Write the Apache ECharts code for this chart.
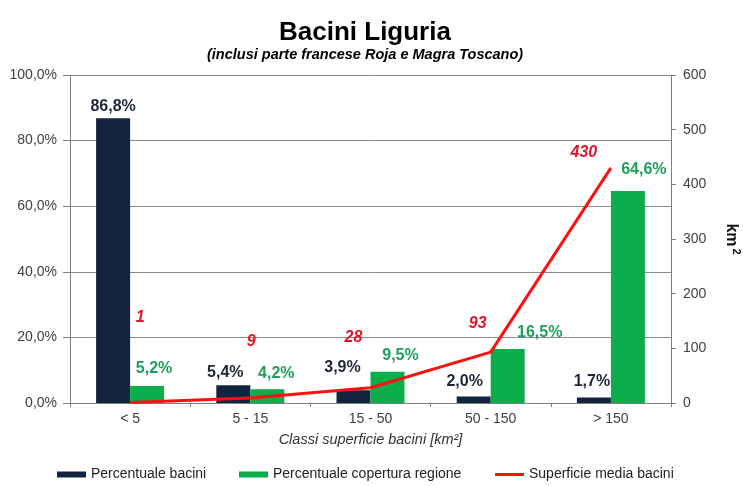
<!DOCTYPE html>
<html>
<head>
<meta charset="utf-8">
<script src="https://cdn.jsdelivr.net/npm/echarts@6/dist/echarts.min.js"></script>
<style>
  html, body { margin: 0; padding: 0; background: #fff; }
  #chart { width: 743px; height: 486px; }
</style>
</head>
<body>
<div id="chart"></div>
<script>
// Basin size classes and their statistics
const categories = ['< 5', '5 - 15', '15 - 50', '50 - 150', '> 150'];
const percentualeBacini = [86.8, 5.4, 3.9, 2.0, 1.7];          // % of basins
const percentualeCopertura = [5.2, 4.2, 9.5, 16.5, 64.6];      // % of regional area
const superficieMedia = [1, 9, 28, 93, 430];                   // mean basin area, km²
const leftTicks = { min: 0, max: 100, interval: 20 };
const rightTicks = { min: 0, max: 600, interval: 100 };

// Label nudges (px) so the value tags sit where they read cleanly
const darkLabelShift = [[0, -4], [-8, -5], [-11, -15], [-9, -7], [-2, -8]];
const greenLabelShift = [[7, -9], [9, -8], [13, -8], [32, -8], [16, -14]];
const redLabelShift = [[10, -77], [1, -48], [-17, -42], [-13, -21], [-27, -7]];

const NAVY = '#132440';
const GREEN = '#0cae4c';
const RED = '#ff1010';
const FONT = '"Liberation Sans", Arial, sans-serif';

const pct = v => v.toFixed(1).replace('.', ',') + '%';

const chart = echarts.init(document.getElementById('chart'), null, { renderer: 'canvas' });

const legendBase = {
  orient: 'horizontal',
  top: 462,
  padding: 5,
  itemGap: 0,
  textStyle: { fontFamily: FONT, fontSize: 14, color: '#222', lineHeight: 15 }
};

chart.setOption({
  backgroundColor: '#fff',
  animation: false,
  title: [
    {
      text: 'Bacini Liguria',
      left: 274,
      top: 14,
      textStyle: { fontFamily: FONT, fontSize: 26, fontWeight: 'bold', color: '#000', lineHeight: 28 }
    },
    {
      text: '(inclusi parte francese Roja e Magra Toscano)',
      left: 202,
      top: 42,
      textStyle: { fontFamily: FONT, fontSize: 14.5, fontWeight: 'bold', fontStyle: 'italic', color: '#000', lineHeight: 16 }
    }
  ],
  legend: [
    Object.assign({}, legendBase, {
      left: 52, itemWidth: 29, itemHeight: 6,
      data: [{ name: 'Percentuale bacini', icon: 'rect' }]
    }),
    Object.assign({}, legendBase, {
      left: 234, itemWidth: 29, itemHeight: 6,
      data: [{ name: 'Percentuale copertura regione', icon: 'rect' }]
    }),
    Object.assign({}, legendBase, {
      left: 490, itemWidth: 29, itemHeight: 3,
      data: [{ name: 'Superficie media bacini', icon: 'rect' }]
    })
  ],
  grid: { left: 70, right: 72, top: 75, bottom: 83, outerBoundsMode: 'none' },
  xAxis: {
    type: 'category',
    data: categories,
    boundaryGap: true,
    name: 'Classi superficie bacini [km²]',
    nameLocation: 'middle',
    nameGap: 29,
    nameTextStyle: { fontFamily: FONT, fontSize: 14.5, fontStyle: 'italic', color: '#333' },
    axisLine: { lineStyle: { color: '#7f7f7f', width: 1 } },
    axisTick: { show: true, length: 4, inside: false, lineStyle: { color: '#7f7f7f' } },
    axisLabel: { fontFamily: FONT, fontSize: 14, color: '#404040', margin: 9 },
    splitLine: { show: false }
  },
  yAxis: [
    {
      type: 'value',
      min: leftTicks.min, max: leftTicks.max, interval: leftTicks.interval,
      position: 'left',
      axisLine: { show: true, lineStyle: { color: '#7f7f7f', width: 1 } },
      axisTick: { show: true, length: 7, inside: false, lineStyle: { color: '#7f7f7f' } },
      axisLabel: { fontFamily: FONT, fontSize: 14, color: '#404040', margin: 13, formatter: pct },
      splitLine: { show: true, lineStyle: { color: '#8c8c8c', width: 1 } }
    },
    {
      type: 'value',
      min: rightTicks.min, max: rightTicks.max, interval: rightTicks.interval,
      position: 'right',
      name: '{a|km}{b|2}',
      nameLocation: 'middle',
      nameGap: 50,
      nameRotate: -90,
      nameTextStyle: {
        rich: {
          a: { fontFamily: FONT, fontSize: 16, fontWeight: 'bold', color: '#111' },
          b: { fontFamily: FONT, fontSize: 11, fontWeight: 'bold', color: '#111', padding: [0, 0, 10, 2] }
        }
      },
      axisLine: { show: true, lineStyle: { color: '#7f7f7f', width: 1 } },
      axisTick: { show: true, length: 5, inside: false, lineStyle: { color: '#7f7f7f' } },
      axisLabel: { fontFamily: FONT, fontSize: 14, color: '#404040', margin: 12 },
      splitLine: { show: false }
    }
  ],
  series: [
    {
      name: 'Percentuale bacini',
      type: 'bar',
      yAxisIndex: 0,
      barWidth: 34,
      barGap: '0%',
      itemStyle: { color: NAVY },
      label: {
        show: true, position: 'top', distance: 0,
        fontFamily: FONT, fontSize: 16, fontWeight: 'bold', color: '#1d2636',
        formatter: p => pct(p.value)
      },
      data: percentualeBacini.map((v, i) => ({ value: v, label: { offset: darkLabelShift[i] } }))
    },
    {
      name: 'Percentuale copertura regione',
      type: 'bar',
      yAxisIndex: 0,
      barWidth: 34,
      barGap: '0%',
      itemStyle: { color: GREEN },
      label: {
        show: true, position: 'top', distance: 0,
        fontFamily: FONT, fontSize: 16, fontWeight: 'bold', color: '#1fa05a',
        formatter: p => pct(p.value)
      },
      data: percentualeCopertura.map((v, i) => ({ value: v, label: { offset: greenLabelShift[i] } }))
    },
    {
      name: 'Superficie media bacini',
      type: 'line',
      yAxisIndex: 1,
      z: 5,
      symbol: 'circle',
      symbolSize: 0.1,
      showSymbol: true,
      smooth: false,
      lineStyle: { color: RED, width: 3 },
      itemStyle: { color: RED },
      label: {
        show: true, position: 'top', distance: 0,
        fontFamily: FONT, fontSize: 16, fontWeight: 'bold', fontStyle: 'italic', color: '#e0162b',
        formatter: p => String(p.value)
      },
      data: superficieMedia.map((v, i) => ({ value: v, label: { offset: redLabelShift[i] } }))
    }
  ]
});
</script>
</body>
</html>
